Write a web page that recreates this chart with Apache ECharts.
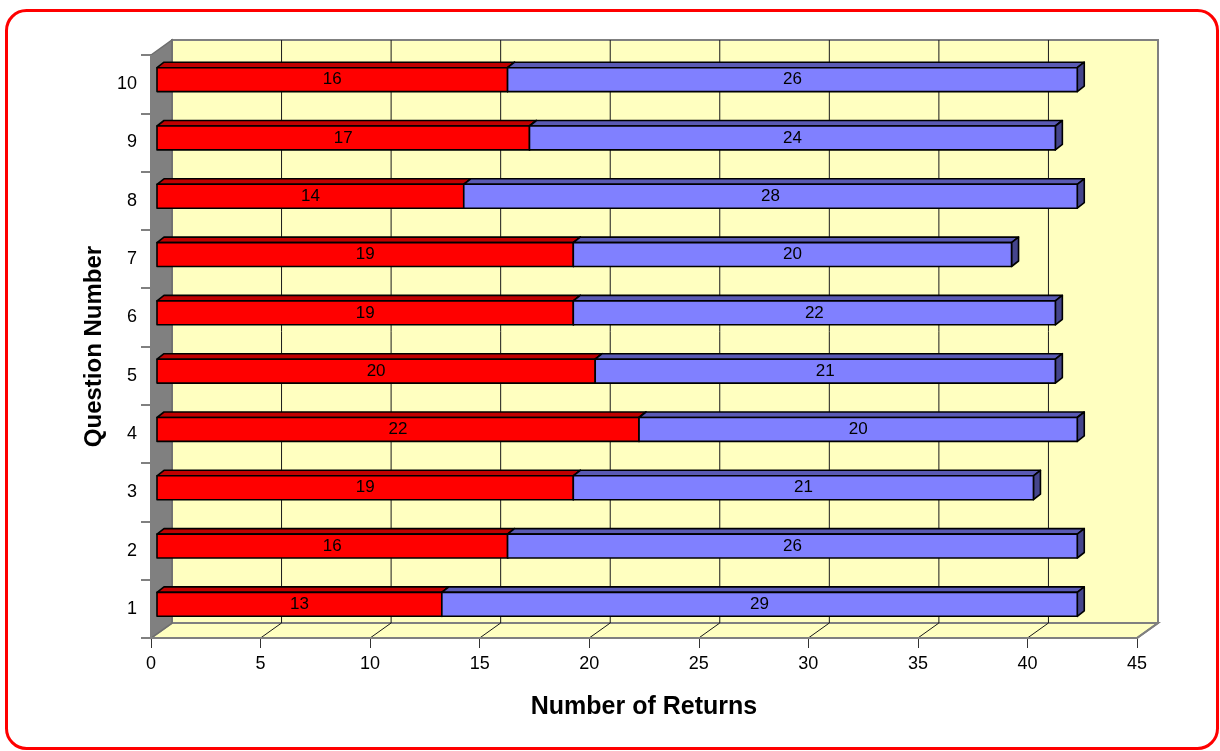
<!DOCTYPE html>
<html>
<head>
<meta charset="utf-8">
<style>
  html, body { margin: 0; padding: 0; background: #fff; }
  #main { width: 1220px; height: 751px; }
</style>
<script src="https://cdn.jsdelivr.net/npm/echarts@6/dist/echarts.min.js"></script>
</head>
<body>
<div id="main"></div>
<script>
// question numbers, bottom to top
var questions = ['1', '2', '3', '4', '5', '6', '7', '8', '9', '10']
// first (red) and second (blue) segment of each bar
var redValues = [13, 16, 19, 22, 20, 19, 19, 14, 17, 16]
var blueValues = [29, 26, 21, 20, 21, 22, 20, 28, 24, 26]
var xTicks = [0, 5, 10, 15, 20, 25, 30, 35, 40, 45]

// 3d look: wall depth and where the bars sit inside it
var DEPTH = [21, -15]
var BAR_FRONT = [6, -4.5]
var BAR_BACK = [13, -10]
var FONT = '"Liberation Sans", Arial, sans-serif'

function segments(starts, values) {
  return values.map(function (v, i) {
    var s = starts ? starts[i] : 0
    return [i, s, s + v, v]
  })
}

function renderFrame(params, api) {
  var cs = params.coordSys
  var x0 = cs.x, x1 = cs.x + cs.width
  var yT = cs.y, yB = cs.y + cs.height
  var dx = DEPTH[0], dy = DEPTH[1]
  var kids = []
  // floor
  kids.push({
    type: 'polygon',
    shape: { points: [[x0, yB], [x0 + dx, yB + dy], [x1 + dx, yB + dy], [x1, yB]] },
    style: { fill: '#FFFFC0', stroke: '#808080', lineWidth: 2 }
  })
  // back wall
  kids.push({
    type: 'polygon',
    shape: { points: [[x0 + dx, yT + dy], [x1 + dx, yT + dy], [x1 + dx, yB + dy], [x0 + dx, yB + dy]] },
    style: { fill: '#FFFFC0', stroke: '#808080', lineWidth: 2 }
  })
  // grid lines on the wall and floor
  xTicks.forEach(function (v) {
    if (v === xTicks[0] || v === xTicks[xTicks.length - 1]) return
    var px = api.coord([v, 0])[0]
    kids.push({
      type: 'polyline',
      shape: { points: [[px, yB], [px + dx, yB + dy], [px + dx, yT + dy]] },
      style: { stroke: '#1a1a1a', lineWidth: 1, fill: null }
    })
  })
  // left side wall
  kids.push({
    type: 'polygon',
    shape: { points: [[x0, yT], [x0 + dx, yT + dy], [x0 + dx, yB + dy], [x0, yB]] },
    style: { fill: '#808080', stroke: '#6e6e6e', lineWidth: 1.5 }
  })
  // front axis lines
  kids.push({
    type: 'polyline',
    shape: { points: [[x0, yT], [x0, yB], [x1, yB], [x1 + dx, yB + dy]] },
    style: { stroke: '#808080', lineWidth: 2, fill: null }
  })
  return { type: 'group', children: kids }
}

function barRenderer(front, top, side) {
  return function (params, api) {
    var cat = api.value(0)
    var a = api.coord([api.value(1), cat])
    var b = api.coord([api.value(2), cat])
    var h = api.size([0, 1])[1] * 0.41
    var xs = a[0] + BAR_FRONT[0], xe = b[0] + BAR_FRONT[0]
    var yc = a[1] + BAR_FRONT[1]
    var yt = yc - h / 2, yb = yc + h / 2
    var ox = BAR_BACK[0] - BAR_FRONT[0], oy = BAR_BACK[1] - BAR_FRONT[1]
    var line = { stroke: '#000', lineWidth: 1.6, lineJoin: 'round' }
    return {
      type: 'group',
      children: [
        {
          type: 'polygon',
          shape: { points: [[xs, yt], [xs + ox, yt + oy], [xe + ox, yt + oy], [xe, yt]] },
          style: Object.assign({ fill: top }, line)
        },
        {
          type: 'polygon',
          shape: { points: [[xe, yt], [xe + ox, yt + oy], [xe + ox, yb + oy], [xe, yb]] },
          style: Object.assign({ fill: side }, line)
        },
        {
          type: 'rect',
          shape: { x: xs, y: yt, width: xe - xs, height: h },
          style: Object.assign({ fill: front }, line)
        },
        {
          type: 'text',
          x: (xs + xe) / 2,
          y: yc,
          style: {
            text: String(api.value(3)),
            align: 'center',
            verticalAlign: 'middle',
            fill: '#000',
            fontSize: 17,
            fontFamily: FONT
          }
        }
      ]
    }
  }
}

var myChart = echarts.init(document.getElementById('main'))
myChart.setOption({
  animation: false,
  graphic: [{
    type: 'rect',
    shape: { x: 6.5, y: 10.5, width: 1211, height: 738, r: 20 },
    style: { fill: 'none', stroke: '#FF0000', lineWidth: 3 },
    z: 10
  }],
  grid: { left: 151, right: 83, top: 55, bottom: 113, containLabel: false },
  xAxis: {
    type: 'value',
    min: 0,
    max: 45,
    interval: 5,
    axisLine: { show: false },
    axisTick: { show: true, length: 10, lineStyle: { color: '#333', width: 1 } },
    splitLine: { show: false },
    axisLabel: { margin: 17, color: '#000', fontSize: 18, fontFamily: FONT },
    name: 'Number of Returns',
    nameLocation: 'middle',
    nameGap: 57,
    nameTextStyle: { color: '#000', fontSize: 25, fontWeight: 'bold', fontFamily: FONT }
  },
  yAxis: {
    type: 'category',
    data: questions,
    axisLine: { show: false },
    axisTick: { show: true, length: 10, lineStyle: { color: '#808080', width: 2 } },
    axisLabel: { margin: 14, color: '#000', fontSize: 18, fontFamily: FONT, padding: [0, 0, 8, 0] },
    name: 'Question Number',
    nameLocation: 'middle',
    nameGap: 42,
    nameTextStyle: { color: '#000', fontSize: 24, fontWeight: 'bold', fontFamily: FONT }
  },
  series: [
    {
      type: 'custom',
      name: 'frame',
      z: 1,
      silent: true,
      renderItem: renderFrame,
      data: [[0, 0]]
    },
    {
      type: 'custom',
      name: 'First',
      z: 3,
      renderItem: barRenderer('#FF0000', '#C00000', '#800000'),
      encode: { x: [1, 2], y: 0 },
      data: segments(null, redValues)
    },
    {
      type: 'custom',
      name: 'Second',
      z: 4,
      renderItem: barRenderer('#8080FF', '#5A5AB4', '#45458C'),
      encode: { x: [1, 2], y: 0 },
      data: segments(redValues, blueValues)
    }
  ]
})
window.addEventListener('resize', function () {
  myChart.resize()
})
</script>
</body>
</html>
